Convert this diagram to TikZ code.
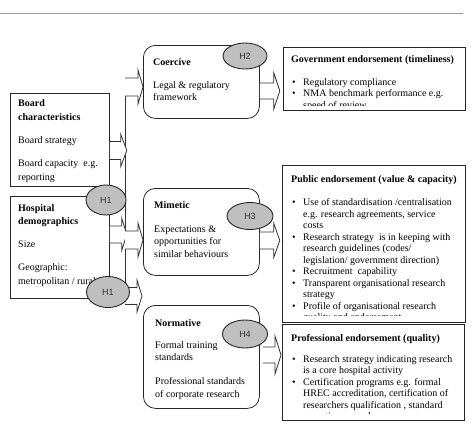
\documentclass[tikz,border=0pt]{standalone}
\usepackage{fontspec}
\setmainfont{Liberation Serif}
\newfontfamily\hfont{Liberation Sans}
\usetikzlibrary{calc,shapes.geometric}
\newcommand\bul{\llap{\textbullet\hspace{7.5pt}}}
\newcommand\blockarrow[5]{%
  \draw[barrow] ($(#1)+(0,-#4)$) -- ++(#2,0) -- ++(0,#4-#5) -- ++(#3,#5) -- ++(-#3,#5) -- ++(0,#4-#5) -- ++(-#2,0);}
\tikzset{
  sqbox/.style={draw=black!85, line width=0.8pt, fill=white, inner sep=0pt, anchor=north west},
  rbox/.style={sqbox, rounded corners=12pt},
  ebox/.style={sqbox, line width=1pt},
  barrow/.style={draw=black!80, fill=white, line width=0.8pt, line join=miter},
  hyp/.style={ellipse, draw=black!85, line width=0.9pt, fill=gray!50, inner sep=0pt,
    font=\hfont\fontsize{9}{9}\selectfont, text=black!80},
  txt/.style={anchor=base west, inner sep=0pt, font=\fontsize{10}{12}\selectfont},
  conn/.style={draw=black!80, line width=0.8pt},
}
\begin{document}
\begin{tikzpicture}[x=1pt,y=-1pt]
\useasboundingbox (0,0) rectangle (474,432);
% top rule
\coordinate (rl) at (0,13);
\coordinate (rr) at (463,13);
\draw[black!40, line width=1pt] (rl) -- (rr);

% boxes
\node[sqbox, minimum width=99pt, minimum height=93pt] (board) at (10,93) {};
\node[sqbox, minimum width=99pt, minimum height=102pt] (hosp) at (10,196) {};
\node[rbox, minimum width=116pt, minimum height=73pt] (coer) at (143,45) {};
\node[rbox, minimum width=116pt, minimum height=87pt] (mim) at (143,188) {};
\node[rbox, minimum width=116pt, minimum height=103pt] (norm) at (143,305) {};
\node[ebox, minimum width=182pt, minimum height=63pt] (gov) at (283,47) {};
\node[ebox, minimum width=183pt, minimum height=157pt] (pub) at (282,165) {};
\node[ebox, minimum width=182pt, minimum height=96pt] (prof) at (282,324) {};

% junction line
\coordinate (j0) at (125,78);
\coordinate (j1) at (125,87);
\coordinate (j2) at (125,240);
\coordinate (jb) at (125,289);
\coordinate (n1) at (125,296);
\coordinate (n4) at (263,355);
\draw[conn] (j0) -- (jb);

% block arrows
\blockarrow{$(board.east)+(0,10.5)$}{11}{6}{9}{16}
\blockarrow{$(hosp.east)+(0,-13)$}{12}{5}{8.5}{16}
\blockarrow{j1}{13}{5}{9}{17}
\blockarrow{j2}{13}{5}{9}{17}
\blockarrow{n1}{12}{5}{8.5}{16}
\blockarrow{$(coer.east)+(0,9)$}{14}{6}{8}{18}
\blockarrow{$(mim.east)+(0,8.5)$}{14}{6}{8.5}{17}
\blockarrow{n4}{12}{6}{8}{19}

% left boxes text
\node[txt] (b1) at (18,106) {\bfseries Board};
\node[txt] (b2) at (18,120) {\bfseries characteristics};
\node[txt] (b3) at (18,143) {Board strategy};
\node[txt] (b4) at (18,166) {Board capacity\ \ e.g.};
\node[txt] (b5) at (18,180) {reporting};
\node[txt] (d1) at (18,211) {\bfseries Hospital};
\node[txt] (d2) at (18,224) {\bfseries demographics};
\node[txt] (d3) at (18,247) {Size};
\node[txt] (d4) at (18,270) {Geographic:};
\node[txt] (d5) at (18,284) {metropolitan / rural};

% middle boxes text
\node[txt] (c1) at (153,65) {\bfseries Coercive};
\node[txt] (c2) at (153,88) {Legal \& regulatory};
\node[txt] (c3) at (153,100) {framework};
\node[txt] (m1) at (154,208) {\bfseries Mimetic};
\node[txt] (m2) at (154,232) {Expectations \&};
\node[txt] (m3) at (154,244) {opportunities for};
\node[txt] (m4) at (154,257) {similar behaviours};
\node[txt] (o1) at (155,326) {\bfseries Normative};
\node[txt] (o2) at (155,348) {Formal training};
\node[txt] (o3) at (155,360) {standards};
\node[txt] (o4) at (155,384) {Professional standards};
\node[txt] (o5) at (155,397) {of corporate research};

% right boxes text (clipped like the original)
\begin{scope}
\clip (gov.north west) rectangle ($(gov.south east)+(0,-5.5)$);
\node[txt] (g0) at (291,62) {\bfseries Government endorsement (timeliness)};
\node[txt] (g1) at (303,85) {\bul Regulatory compliance};
\node[txt] (g2) at (303,96.5) {\bul NMA benchmark performance e.g.};
\node[txt] (g3) at (303,108.5) {speed of review};
\end{scope}
\begin{scope}
\clip (pub.north west) rectangle ($(pub.south east)+(0,-7.5)$);
\node[txt] (p0) at (291,182) {\bfseries Public endorsement (value \& capacity)};
\node[txt] (p1) at (303,205.5) {\bul Use of standardisation /centralisation};
\node[txt] (p2) at (303,217) {e.g. research agreements, service};
\node[txt] (p3) at (303,228.5) {costs};
\node[txt] (p4) at (303,240) {\bul Research strategy\ \ is in keeping with};
\node[txt] (p5) at (303,251.5) {research guidelines (codes/};
\node[txt] (p6) at (303,263) {legislation/ government direction)};
\node[txt] (p7) at (303,274.5) {\bul Recruitment\ \ capability};
\node[txt] (p8) at (303,286) {\bul Transparent organisational research};
\node[txt] (p9) at (303,297.5) {strategy};
\node[txt] (p10) at (303,309) {\bul Profile of organisational research};
\node[txt] (p11) at (303,320.5) {quality and endorsement};
\end{scope}
\begin{scope}
\clip (prof.north west) rectangle ($(prof.south east)+(0,-7.5)$);
\node[txt] (r0) at (291,341) {\bfseries Professional endorsement (quality)};
\node[txt] (r1) at (303,362) {\bul Research strategy indicating research};
\node[txt] (r2) at (303,373.5) {is a core hospital activity};
\node[txt] (r3) at (303,385) {\bul Certification programs e.g. formal};
\node[txt] (r4) at (303,396.5) {HREC accreditation, certification of};
\node[txt] (r5) at (303,408) {researchers qualification , standard};
\node[txt] (r6) at (303,419.5) {operating procedures};
\end{scope}

% hypothesis ellipses
\node[hyp, minimum width=44pt, minimum height=26pt] (h2) at (245,56) {H2};
\node[hyp, minimum width=40pt, minimum height=30pt] (h1a) at (106,200) {H1};
\node[hyp, minimum width=43pt, minimum height=31pt] (h1b) at (108,292) {H1};
\node[hyp, minimum width=46pt, minimum height=27pt] (h3) at (250,216) {H3};
\node[hyp, minimum width=45pt, minimum height=28pt] (h4) at (245,334) {H4};
\end{tikzpicture}
\end{document}
